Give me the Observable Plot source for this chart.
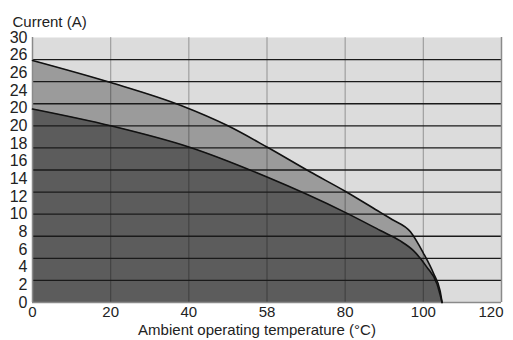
<!DOCTYPE html>
<html>
<head>
<meta charset="utf-8">
<script src="https://cdn.jsdelivr.net/npm/d3@7"></script>
<script src="https://cdn.jsdelivr.net/npm/@observablehq/plot@0.6"></script>
<style>
  html, body { margin: 0; padding: 0; background: #fff; }
  svg { display: block; }
</style>
</head>
<body>
<div id="chart"></div>
<script>
// Upper derating curve (temperature °C, current A)
const upperTemp = [0, 20, 38, 50, 60, 71, 80, 89, 92, 96.7, 100, 102.6, 104.3, 104.8];
const upperCurrent = [27.4, 24.9, 22.3, 20.0, 17.6, 14.8, 12.6, 10.2, 9.4, 8.0, 5.6, 3.3, 1.3, 0];
// Lower derating curve
const lowerTemp = [0, 20, 40, 60, 80, 89, 94, 97.4, 100.9, 103.5, 104.8];
const lowerCurrent = [21.9, 20.0, 17.6, 14.2, 10.2, 8.15, 7.0, 5.9, 4.0, 2.1, 0];

// Axis ticks and their printed labels (as in the original, including misprints)
const xTicks = [0, 20, 40, 60, 80, 100];
const xTickLabels = ["0", "20", "40", "58", "80", "100"];
const xLastTick = [120];
const xLastLabel = ["120"];
const yTicks = [0, 2, 4, 6, 8, 10, 12, 14, 16, 18, 20, 22, 24, 26, 28, 30];
const yTickLabels = ["0", "2", "4", "6", "8", "10", "12", "14", "16", "18", "20", "20", "24", "26", "26", "30"];
// Grid lines
const gridX = [20, 40, 60, 80, 100];
const gridY = [2.5, 5, 7.5, 10, 12.5, 15, 17.5, 20, 22.5, 25, 27.5];
const borderX = [0, 120];
const borderY = [0];

const yTitle = "Current (A)";
const xTitle = "Ambient operating temperature (°C)";

const upper = upperTemp.map((t, i) => ({t, c: upperCurrent[i]}));
const lower = lowerTemp.map((t, i) => ({t, c: lowerCurrent[i]}));

const chart = Plot.plot({
  width: 513,
  height: 340,
  marginLeft: 32,
  marginRight: 12,
  marginTop: 37,
  marginBottom: 38,
  style: {fontFamily: "'Liberation Sans', Arial, sans-serif", color: "#222", background: "#fff"},
  x: {domain: [0, 120]},
  y: {domain: [0, 30]},
  marks: [
    Plot.frame({fill: "#dcdcdc", stroke: null}),
    Plot.areaY(upper, {x: "t", y: "c", fill: "#9b9b9b", curve: "monotone-x"}),
    Plot.areaY(lower, {x: "t", y: "c", fill: "#5c5c5c", curve: "monotone-x"}),
    Plot.ruleX(gridX, {stroke: "#000", strokeOpacity: 0.28, strokeWidth: 1.2}),
    Plot.ruleY(gridY, {stroke: "#1a1a1a", strokeWidth: 1.3}),
    Plot.ruleX(borderX, {stroke: "#8a8a8a", strokeWidth: 1.5}),
    Plot.ruleY(borderY, {stroke: "#8a8a8a", strokeWidth: 1.5}),
    Plot.line(upper, {x: "t", y: "c", stroke: "#111", strokeWidth: 1.6, curve: "monotone-x"}),
    Plot.line(lower, {x: "t", y: "c", stroke: "#111", strokeWidth: 1.6, curve: "monotone-x"}),
    Plot.axisX({ticks: xTicks, tickSize: 0, tickPadding: 4, fontSize: 15, label: null,
      tickFormat: d => xTickLabels[xTicks.indexOf(d)]}),
    Plot.axisX({ticks: xLastTick, tickSize: 0, tickPadding: 4, fontSize: 15, label: null,
      textAnchor: "end", dx: 2, tickFormat: d => xLastLabel[xLastTick.indexOf(d)]}),
    Plot.axisY({ticks: yTicks, tickSize: 0, tickPadding: 5, fontSize: 16, label: null,
      tickFormat: d => yTickLabels[yTicks.indexOf(d)]}),
    Plot.text([yTitle], {frameAnchor: "top-left", dx: -20, dy: -21, fontSize: 15, fill: "#222"}),
    Plot.text([xTitle], {frameAnchor: "bottom", dx: -10, dy: 32, fontSize: 15, fill: "#222"})
  ]
});
document.getElementById("chart").append(chart);
</script>
</body>
</html>
